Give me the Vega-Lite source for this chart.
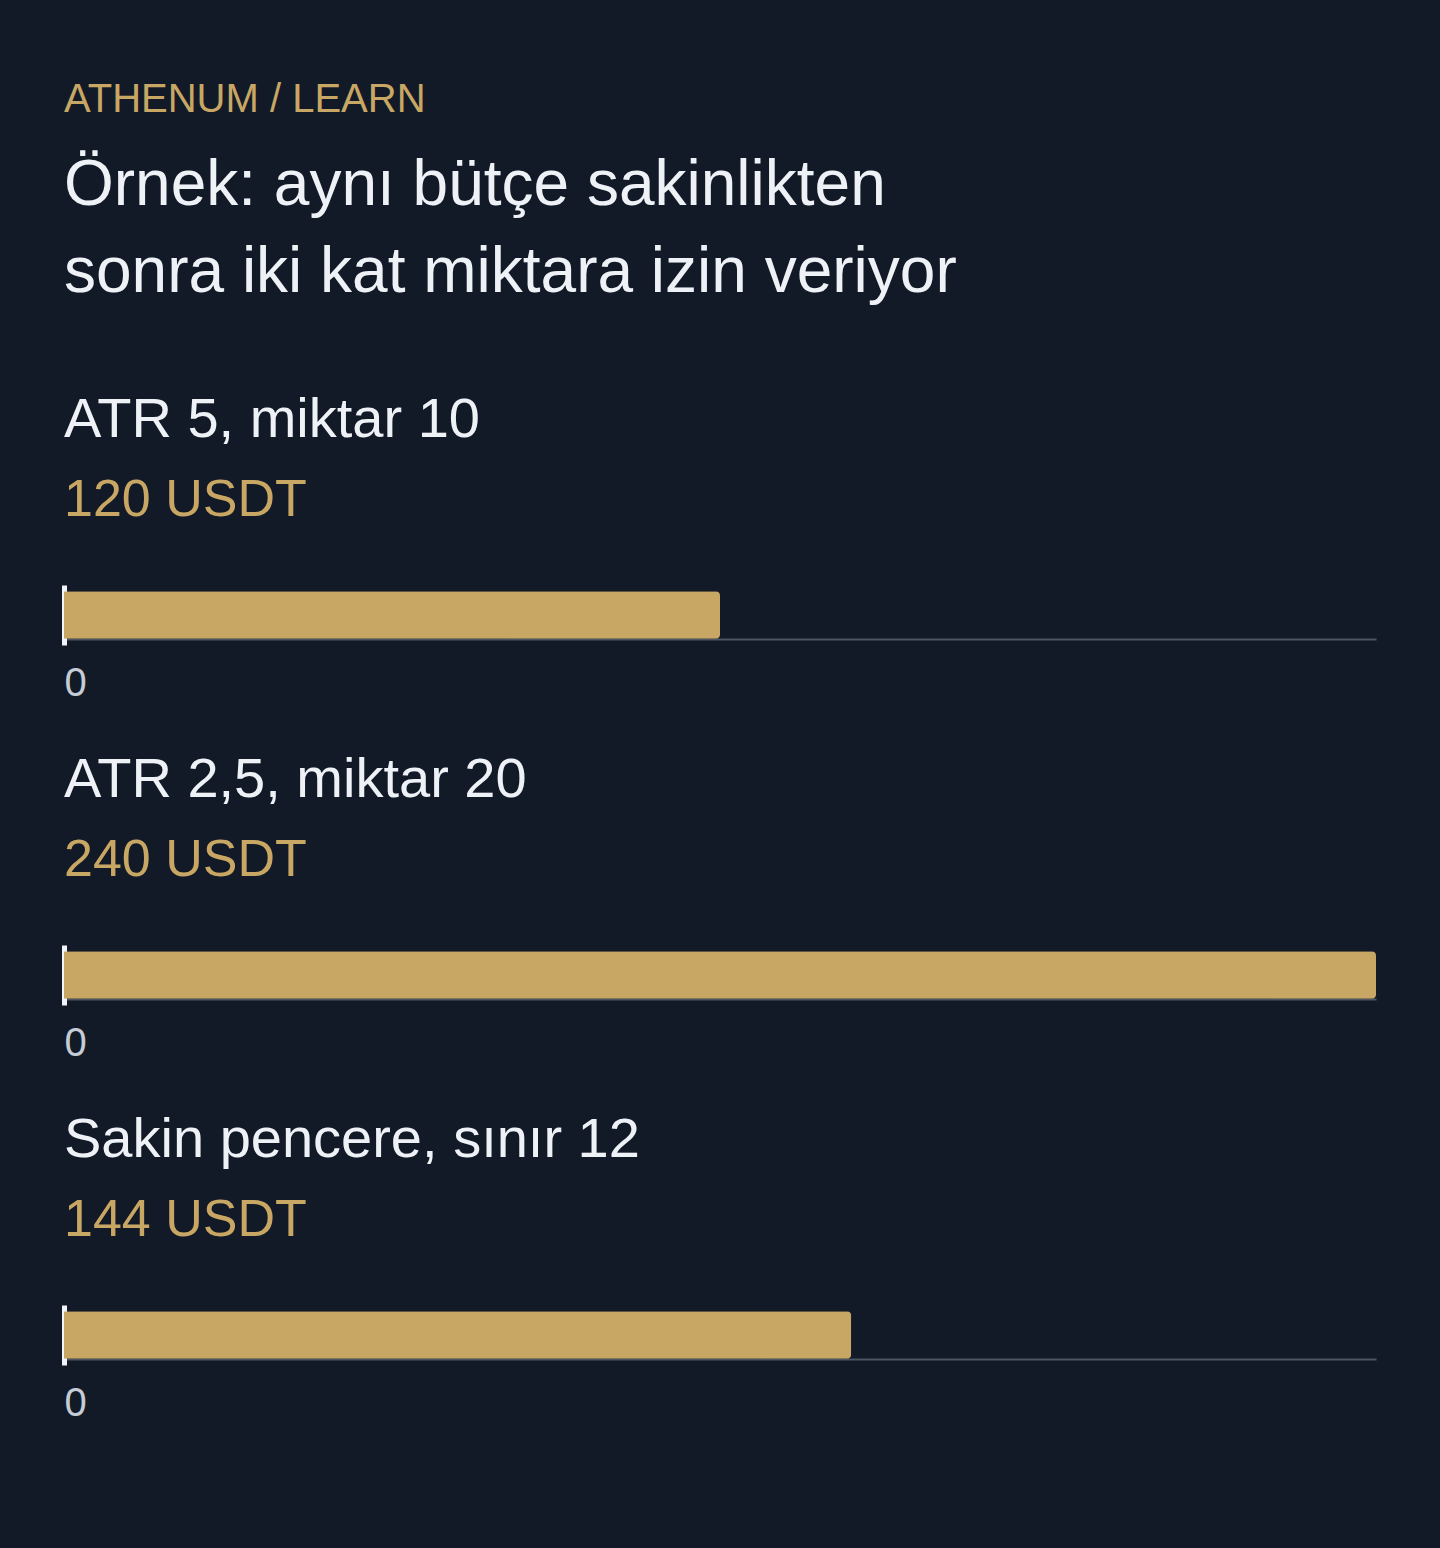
{
  "$schema": "https://vega.github.io/schema/vega-lite/v6.json",
  "background": "#131a27",
  "padding": {"left": 64, "right": 64, "top": 80, "bottom": 135},
  "title": {
    "text": "ATHENUM / LEARN",
    "subtitle": ["Örnek: aynı bütçe sakinlikten", "sonra iki kat miktara izin veriyor"],
    "anchor": "start",
    "frame": "group",
    "font": "Liberation Sans",
    "fontSize": 40,
    "fontWeight": "normal",
    "color": "#c8a764",
    "subtitleFont": "Liberation Sans",
    "subtitleFontSize": 64,
    "subtitleColor": "#eef2f7",
    "subtitleLineHeight": 87,
    "subtitlePadding": 34,
    "offset": 87
  },
  "data": {
    "values": [
      {"label": "ATR 5, miktar 10", "amount": "120 USDT", "value": 120},
      {"label": "ATR 2,5, miktar 20", "amount": "240 USDT", "value": 240},
      {"label": "Sakin pencere, sınır 12", "amount": "144 USDT", "value": 144}
    ]
  },
  "spacing": 49,
  "vconcat": [
    {
      "title": {"text": "ATR 5, miktar 10", "subtitle": "120 USDT"},
      "transform": [{"filter": "datum.label === 'ATR 5, miktar 10'"}],
      "width": 1312,
      "height": 60,
      "mark": {"type": "bar", "color": "#c8a764", "cornerRadiusEnd": 4},
      "encoding": {
        "x": {"field": "value", "type": "quantitative", "scale": {"domain": [0, 240]}, "axis": {"values": [0]}},
        "y": {"field": "label", "type": "nominal", "scale": {"paddingInner": 0, "paddingOuter": 0.13}}
      }
    },
    {
      "title": {"text": "ATR 2,5, miktar 20", "subtitle": "240 USDT"},
      "transform": [{"filter": "datum.label === 'ATR 2,5, miktar 20'"}],
      "width": 1312,
      "height": 60,
      "mark": {"type": "bar", "color": "#c8a764", "cornerRadiusEnd": 4},
      "encoding": {
        "x": {"field": "value", "type": "quantitative", "scale": {"domain": [0, 240]}, "axis": {"values": [0]}},
        "y": {"field": "label", "type": "nominal", "scale": {"paddingInner": 0, "paddingOuter": 0.13}}
      }
    },
    {
      "title": {"text": "Sakin pencere, sınır 12", "subtitle": "144 USDT"},
      "transform": [{"filter": "datum.label === 'Sakin pencere, sınır 12'"}],
      "width": 1312,
      "height": 60,
      "mark": {"type": "bar", "color": "#c8a764", "cornerRadiusEnd": 4},
      "encoding": {
        "x": {"field": "value", "type": "quantitative", "scale": {"domain": [0, 240]}, "axis": {"values": [0]}},
        "y": {"field": "label", "type": "nominal", "scale": {"paddingInner": 0, "paddingOuter": 0.13}}
      }
    }
  ],
  "config": {
    "font": "Liberation Sans",
    "view": {"stroke": null},
    "title": {
      "anchor": "start",
      "frame": "group",
      "font": "Liberation Sans",
      "fontSize": 56,
      "fontWeight": "normal",
      "color": "#eef2f7",
      "subtitleFont": "Liberation Sans",
      "subtitleFontSize": 52,
      "subtitleColor": "#c8a764",
      "subtitlePadding": 26,
      "offset": 58
    },
    "axisX": {
      "title": null,
      "grid": false,
      "ticks": false,
      "tickSize": 0,
      "domainColor": "#4b5563",
      "domainWidth": 2,
      "offset": -6,
      "labelAlign": "left",
      "labelFont": "Liberation Sans",
      "labelFontSize": 40,
      "labelColor": "#c5ccd6",
      "labelPadding": 24
    },
    "axisY": {
      "title": null,
      "labels": false,
      "ticks": false,
      "tickSize": 0,
      "grid": false,
      "domainColor": "#f1f4f8",
      "domainWidth": 5,
      "zindex": 1
    }
  }
}
